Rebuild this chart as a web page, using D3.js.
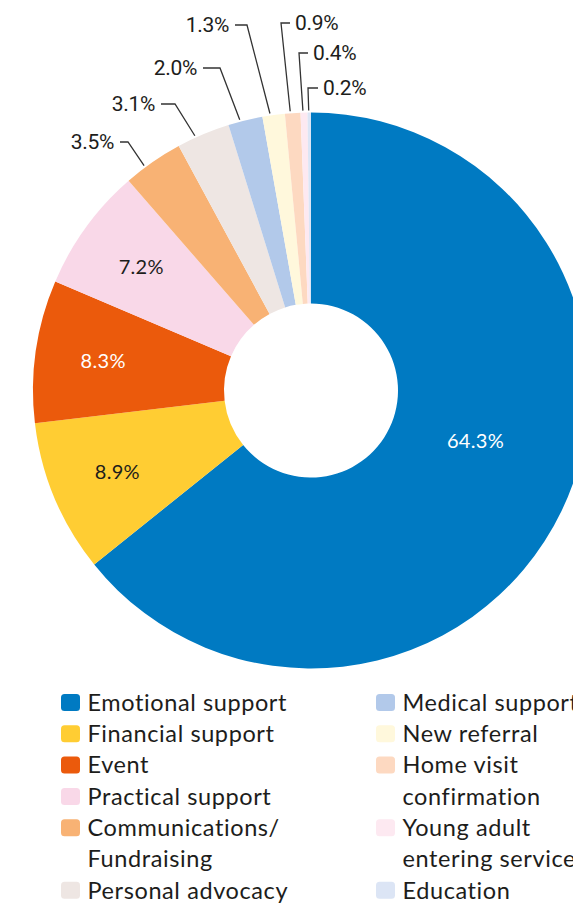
<!DOCTYPE html>
<html>
<head>
<meta charset="utf-8">
<script src="https://cdn.jsdelivr.net/npm/d3@7"></script>
<style>
  body { margin: 0; background: #fff; }
  svg { display: block; }
  .legend text { font-family: Lato, "Noto Sans", sans-serif; font-size: 23.5px; letter-spacing: 0.6px; fill: #1d1d1b; }
  .inside { font-family: Lato, "Noto Sans", sans-serif; font-size: 20px; letter-spacing: 0.3px; }
  .callout text { font-family: Roboto, "Noto Sans", sans-serif; font-size: 21px; letter-spacing: -0.3px; fill: #1d1d1b; }
</style>
</head>
<body>
<svg width="573" height="903"></svg>
<script>
const categories = [
    'Emotional support', 'Financial support', 'Event', 'Practical support',
    'Communications/Fundraising', 'Personal advocacy', 'Medical support',
    'New referral', 'Home visit confirmation', 'Young adult entering service', 'Education'
];
const values = [64.3, 8.9, 8.3, 7.2, 3.5, 3.1, 2.0, 1.3, 0.9, 0.4, 0.2];
const colors = [
    '#007ac2', '#ffcd33', '#eb5a0c', '#f9d8e8', '#f8b274', '#eee6e3',
    '#b2c9ea', '#fff8dc', '#fdd9c1', '#fde9f1', '#dce5f5'
];
const legendLines = [
    ['Emotional support'], ['Financial support'], ['Event'], ['Practical support'],
    ['Communications/', 'Fundraising'], ['Personal advocacy'],
    ['Medical support'], ['New referral'], ['Home visit', 'confirmation'],
    ['Young adult', 'entering service'], ['Education']
];

const svg = d3.select('svg');
const cx = 311, cy = 390.5;
const outerR = 278, innerR = 87;

const pie = d3.pie().sort(null).value(d => d);
const arcs = pie(values);
const arc = d3.arc().innerRadius(innerR).outerRadius(outerR);

const g = svg.append('g').attr('transform', `translate(${cx},${cy})`);

g.selectAll('path')
    .data(arcs)
    .enter().append('path')
    .attr('d', arc)
    .attr('fill', (d, i) => colors[i]);

// labels inside the big slices
const inner = [
    { i: 0, r: 172, angle: 107, fill: '#ffffff' },
    { i: 1, r: 210, fill: '#1d1d1b' },
    { i: 2, r: 210, fill: '#ffffff' },
    { i: 3, r: 210, fill: '#1d1d1b' }
];
inner.forEach(l => {
    const d = arcs[l.i];
    const a = l.angle !== undefined ? l.angle * Math.PI / 180 : (d.startAngle + d.endAngle) / 2;
    g.append('text')
        .attr('class', 'inside')
        .attr('x', l.r * Math.sin(a))
        .attr('y', -l.r * Math.cos(a))
        .attr('dy', '0.35em')
        .attr('text-anchor', 'middle')
        .attr('fill', l.fill)
        .text(values[l.i].toFixed(1) + '%');
});

// callouts for the thin slices: elbow point and end of the short horizontal tick
const callouts = [
    { i: 4, x: 128, y: 142, end: 120 },
    { i: 5, x: 175, y: 104, end: 161 },
    { i: 6, x: 220, y: 68, end: 203 },
    { i: 7, x: 247, y: 25, end: 235 },
    { i: 8, x: 281, y: 23, end: 290 },
    { i: 9, x: 299, y: 53, end: 308 },
    { i: 10, x: 308, y: 88, end: 318 }
];
const co = svg.append('g').attr('class', 'callout');
callouts.forEach(c => {
    const d = arcs[c.i];
    const a = (d.startAngle + d.endAngle) / 2 - (d.endAngle - d.startAngle) * 0.15;
    const px = cx + (outerR + 2) * Math.sin(a);
    const py = cy - (outerR + 2) * Math.cos(a);
    co.append('path')
        .attr('d', `M${px},${py}L${c.x},${c.y}L${c.end},${c.y}`)
        .attr('fill', 'none')
        .attr('stroke', '#333')
        .attr('stroke-width', 1.3);
    const left = c.end < c.x;
    co.append('text')
        .attr('x', left ? c.end - 6 : c.end + 5)
        .attr('y', c.y)
        .attr('dy', '0.35em')
        .attr('text-anchor', left ? 'end' : 'start')
        .text(values[c.i].toFixed(1) + '%');
});

// legend, two columns
const legend = svg.append('g').attr('class', 'legend');
const lineH = 31.3;
const columns = [
    { x: 61, items: [0, 1, 2, 3, 4, 5] },
    { x: 376, items: [6, 7, 8, 9, 10] }
];
columns.forEach(col => {
    let row = 0;
    col.items.forEach(i => {
        const y = 702.5 + row * lineH;
        legend.append('rect')
            .attr('x', col.x)
            .attr('y', y - 8.5)
            .attr('width', 19)
            .attr('height', 17)
            .attr('rx', 3.5)
            .attr('fill', colors[i]);
        legendLines[i].forEach((t, k) => {
            legend.append('text')
                .attr('x', col.x + 26.5)
                .attr('y', y + k * lineH)
                .attr('dy', '0.35em')
                .text(t);
        });
        row += legendLines[i].length;
    });
});
</script>
</body>
</html>
